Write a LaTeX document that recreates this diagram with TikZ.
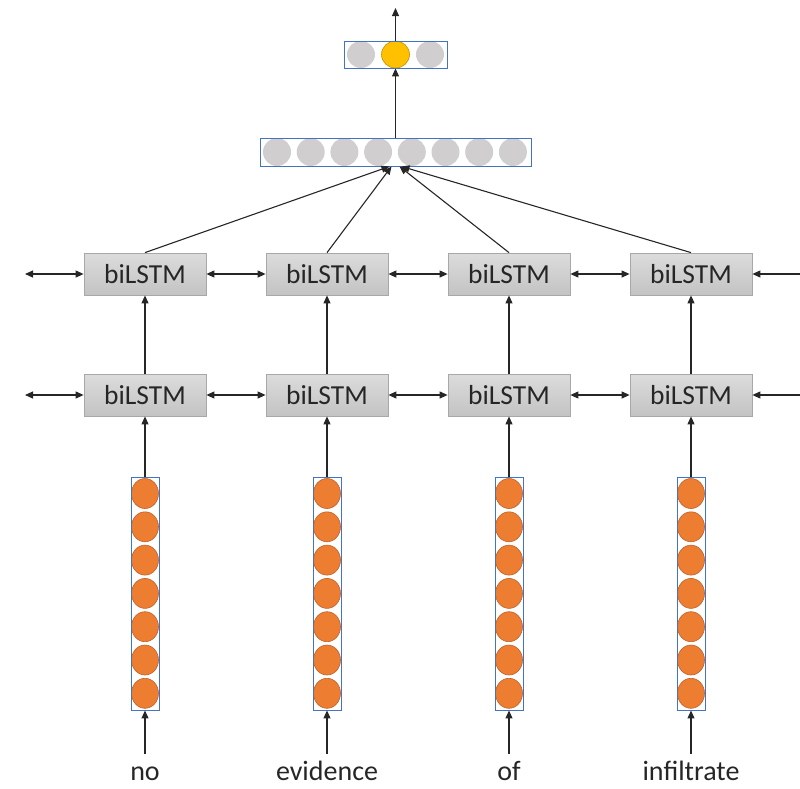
\documentclass[tikz,border=0pt]{standalone}
\usepackage{fontspec}
\setmainfont{Carlito}
\usetikzlibrary{arrows.meta}
\definecolor{cellgray}{HTML}{D0CECE}
\definecolor{cellorange}{HTML}{ED7D31}
\definecolor{orangeline}{HTML}{C0622A}
\definecolor{cellyellow}{HTML}{FFC000}
\definecolor{yellowline}{HTML}{BF9000}
\definecolor{frameblue}{HTML}{4472C4}
\definecolor{boxtop}{HTML}{DCDCDC}
\definecolor{boxbot}{HTML}{C3C3C3}
\definecolor{boxline}{HTML}{A8A8A8}
\begin{document}
\begin{tikzpicture}[x=1pt,y=-1pt,
  lstm/.style={draw=boxline, line width=0.8pt, top color=boxtop, bottom color=boxbot,
    minimum width=122pt, minimum height=42pt, inner sep=0pt,
    font=\fontsize{27.5}{30}\selectfont, text=black!85},
  frame/.style={draw=frameblue, line width=0.9pt, inner sep=0pt, fill=none},
  word/.style={font=\fontsize{28}{30}\selectfont, inner sep=1pt, anchor=base,
    text height=25pt, text depth=1pt, text=black!85},
  grayc/.style={fill=cellgray},
  orangec/.style={fill=cellorange, draw=orangeline, line width=0.6pt},
  yellowc/.style={fill=cellyellow, draw=yellowline, line width=0.6pt},
  tip/.tip={Triangle[length=8pt,width=7pt]},
  arr/.style={line width=1.1pt, black!85, -tip},
  darr/.style={line width=1.1pt, black!85, tip-tip},
]
\useasboundingbox (0,0) rectangle (800,788);

% two stacked biLSTM layers, embedding columns and input words
\foreach \i/\x/\w in {1/145/no, 2/327/evidence, 3/509/of, 4/691/infiltrate} {
  \node[lstm] (t\i) at (\x,274) {biLSTM};
  \node[lstm] (b\i) at (\x,395) {biLSTM};
  \foreach \k in {0,...,6}
    \path[orangec] (\x, 493.5+33.3*\k) ellipse [x radius=13.5, y radius=15];
  \node[frame, minimum width=28pt, minimum height=233pt] (e\i) at (\x,593.5) {};
  \node[word] (w\i) at (\x,780) {\w};
  \draw[arr] (w\i.north) -- (e\i.south);
  \draw[arr] (e\i.north) -- (b\i.south);
  \draw[arr] (b\i.north) -- (t\i.south);
}

% recurrent connections
\coordinate (lt) at (25,274);
\coordinate (lb) at (25,395);
\coordinate (rt) at (800,274);
\coordinate (rb) at (800,395);
\draw[darr] (lt) -- (t1.west);
\draw[darr] (lb) -- (b1.west);
\foreach \a/\b in {1/2, 2/3, 3/4} {
  \draw[darr] (t\a.east) -- (t\b.west);
  \draw[darr] (b\a.east) -- (b\b.west);
}
\draw[arr] (rt) -- (t4.east);
\draw[arr] (rb) -- (b4.east);

% hidden layer
\foreach \k in {0,...,7}
  \path[grayc] (277+33.7*\k,152) circle [radius=14];
\node[frame, minimum width=271pt, minimum height=28pt] (mid) at (395.5,152) {};

% output layer
\path[grayc] (361,54.5) ellipse [x radius=14, y radius=13.5];
\path[grayc] (430,54.5) ellipse [x radius=14, y radius=13.5];
\path[yellowc] (395.5,54.5) ellipse [x radius=14, y radius=13.5];
\node[frame, minimum width=103pt, minimum height=27pt] (out) at (395.5,54.5) {};

% connections into the hidden and output layers
\draw[arr] (t1.north) -- ([xshift=-6pt]mid.south);
\draw[arr] (t2.north) -- ([xshift=-4pt]mid.south);
\draw[arr] (t3.north) -- ([xshift=4pt]mid.south);
\draw[arr] (t4.north) -- ([xshift=6pt]mid.south);
\draw[arr] (mid.north) -- (out.south);
\coordinate (top) at (395.5,8);
\draw[arr] (out.north) -- (top);
\end{tikzpicture}
\end{document}
